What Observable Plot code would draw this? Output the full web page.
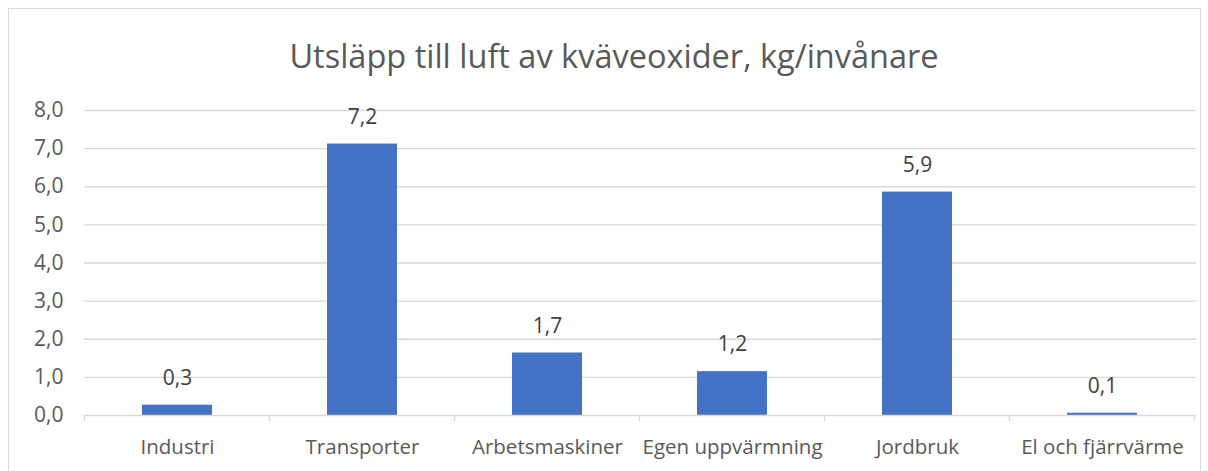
<!DOCTYPE html>
<html>
<head>
<meta charset="utf-8">
<script src="https://cdn.jsdelivr.net/npm/d3@7"></script>
<script src="https://cdn.jsdelivr.net/npm/@observablehq/plot@0.6"></script>
<style>
  html, body { margin: 0; padding: 0; background: #fff; }
  #wrap { position: relative; width: 1208px; height: 471px; overflow: hidden; font-family: "Open Sans", sans-serif; }
  #frame { position: absolute; left: 8px; top: 8px; width: 1193px; height: 480px; border: 1px solid #d9d9d9; box-sizing: border-box; }
  #title { position: absolute; left: 10px; width: 1208px; top: 34px; text-align: center; font-size: 32.5px; color: #595959; line-height: 44px; }
  #chart { position: absolute; left: 0; top: 0; }
</style>
</head>
<body>
<div id="wrap">
  <div id="frame"></div>
  <div id="chart"></div>
  <div id="title">Utsläpp till luft av kväveoxider, kg/invånare</div>
</div>
<script>
const categories = ["Industri", "Transporter", "Arbetsmaskiner", "Egen uppvärmning", "Jordbruk", "El och fjärrvärme"];
const values = [0.27, 7.12, 1.64, 1.15, 5.86, 0.06];
const valueLabels = ["0,3", "7,2", "1,7", "1,2", "5,9", "0,1"];
const yTicks = [0, 1, 2, 3, 4, 5, 6, 7, 8];

const data = categories.map((c, i) => ({category: c, value: values[i], label: valueLabels[i]}));
const fmt = d => d.toFixed(1).replace(".", ",");

const chart = Plot.plot({
  width: 1208,
  height: 471,
  marginLeft: 84,
  marginRight: 12,
  marginTop: 110,
  marginBottom: 56,
  style: {fontFamily: "Open Sans, sans-serif", fontSize: "20px", color: "#595959", background: "transparent"},
  x: {domain: categories, paddingInner: 0.62, paddingOuter: 0.31, label: null},
  y: {domain: [0, 8], label: null},
  marks: [
    Plot.ruleY(yTicks.filter(d => d > 0), {stroke: "#d9d9d9", strokeWidth: 1.3}),
    Plot.axisY(yTicks, {tickSize: 0, tickPadding: 21, tickFormat: fmt, fill: "#595959", fontSize: 21, label: null}),
    Plot.axisX({tickSize: 0, tickPadding: 24, fill: "#595959", fontSize: 20.5, label: null}),
    Plot.barY(data, {x: "category", y: "value", fill: "#4472C4"}),
    Plot.ruleY([0], {stroke: "#d9d9d9", strokeWidth: 1.3}),
    Plot.text(data, {x: "category", y: "value", text: "label", dy: -27, fill: "#404040", fontSize: 21})
  ]
});
document.getElementById("chart").appendChild(chart);

// category boundary ticks, placed with the band scale
const xs = chart.scale("x");
const ys = chart.scale("y");
const y0 = ys.apply(0);
const svg = d3.select(chart);
const half = (xs.step - xs.bandwidth) / 2;
const bounds = categories.map(c => xs.apply(c) - half);
bounds.push(xs.apply(categories[categories.length - 1]) + xs.bandwidth + half);
svg.append("g").selectAll("line").data(bounds).join("line")
  .attr("x1", d => d).attr("x2", d => d)
  .attr("y1", y0).attr("y2", y0 + 6)
  .attr("stroke", "#d9d9d9").attr("stroke-width", 1.3);
</script>
</body>
</html>
